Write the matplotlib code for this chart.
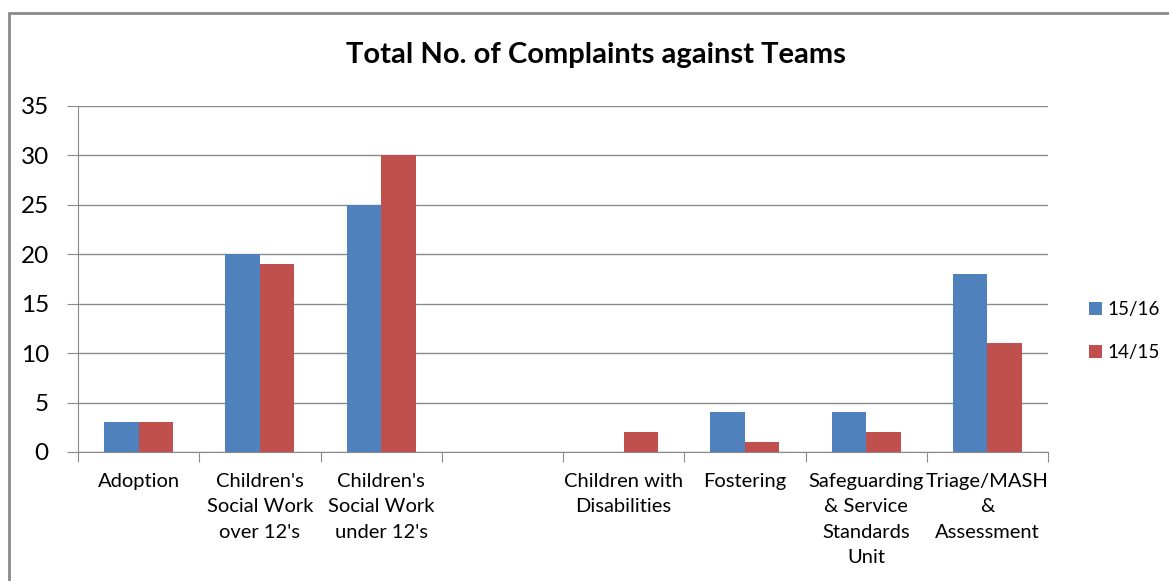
import matplotlib
matplotlib.use("Agg")
import matplotlib.pyplot as plt
import numpy as np
from matplotlib.patches import Rectangle

categories = ["Adoption", "Children's\nSocial Work\nover 12's", "Children's\nSocial Work\nunder 12's", "",
              "Children with\nDisabilities", "Fostering", "Safeguarding\n& Service\nStandards\nUnit",
              "Triage/MASH\n&\nAssessment"]
series_names = ["15/16", "14/15"]
values_1516 = [3, 20, 25, 0, 0, 4, 4, 18]
values_1415 = [3, 19, 30, 0, 2, 1, 2, 11]
yticks = [0, 5, 10, 15, 20, 25, 30, 35]
colors = ["#4F81BD", "#C0504D"]

plt.rcParams['font.family'] = ['Lato', 'DejaVu Sans']
W, H = 1169, 581
fig = plt.figure(figsize=(W/100, H/100), dpi=100)
fig.patch.set_facecolor("white")
fig.patches.append(Rectangle((9/W, -0.2), 1.2, 1.2 - 13/H, transform=fig.transFigure,
                             fill=False, edgecolor="#8a8a8a", lw=2))

ax = fig.add_axes([78/W, 1 - 452/H, (1048-78)/W, (452-106)/H])
x = np.arange(len(categories))
bw = 0.285
ax.bar(x - bw/2, values_1516, bw, color=colors[0], label=series_names[0], zorder=3)
ax.bar(x + bw/2, values_1415, bw, color=colors[1], label=series_names[1], zorder=3)

ax.set_xlim(-0.5, len(categories) - 0.5)
ax.set_ylim(0, 35)
ax.set_yticks(yticks)
ax.yaxis.grid(True, color="#8a8a8a", lw=1, zorder=0)
ax.tick_params(axis="y", length=8, color="#8a8a8a", labelsize=17.5, pad=13)
for s in ["top", "right"]:
    ax.spines[s].set_visible(False)
for s in ["left", "bottom"]:
    ax.spines[s].set_color("#8a8a8a")

ax.set_xticks(np.arange(len(categories) + 1) - 0.5)
ax.set_xticklabels([])
ax.tick_params(axis="x", which="major", length=7, color="#8a8a8a")
ax.set_xticks(x, minor=True)
ax.set_xticklabels(categories, minor=True, fontsize=14.5, linespacing=1.6, va="top")
ax.tick_params(axis="x", which="minor", length=0, pad=15)

fig.text(596/W, 1 - 55/H, "Total No. of Complaints against Teams", ha="center", va="center",
         fontsize=21, fontweight="bold")

leg = ax.legend(loc="center left", bbox_to_anchor=(1072/W, 1 - 331/H), bbox_transform=fig.transFigure,
                frameon=False, fontsize=13.5, handlelength=0.7, handleheight=0.7,
                handletextpad=0.3, labelspacing=1.35)

fig.savefig("out.png", dpi=100)
